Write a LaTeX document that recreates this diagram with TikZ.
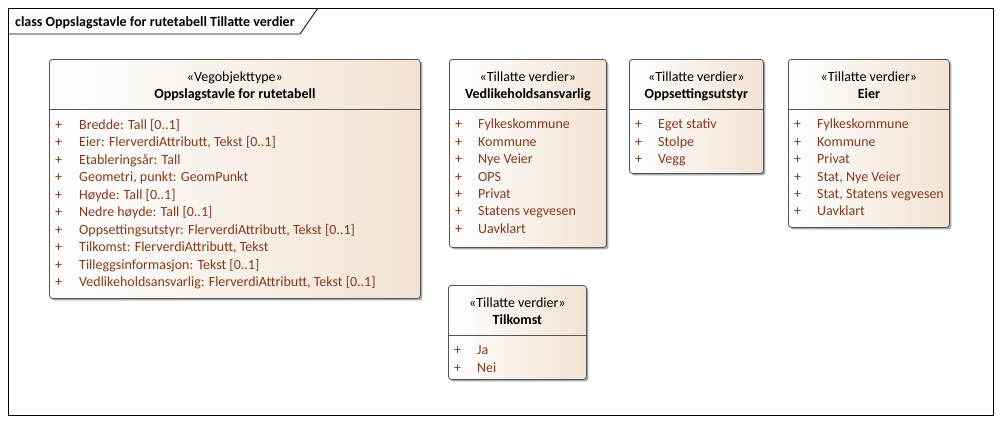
\documentclass[tikz,border=0pt]{standalone}
\usepackage{fontspec}
\setmainfont{Carlito}
\usepackage{xcolor}
\usetikzlibrary{positioning,shadows}
\definecolor{peach}{RGB}{242,226,211}
\definecolor{boxline}{RGB}{85,85,85}
\definecolor{attrtext}{RGB}{128,58,32}

\begin{document}
\begin{tikzpicture}[x=1pt, y=-1pt,
  classbox/.style={draw=boxline, line width=0.8pt, rounded corners=3pt, left color=white, right color=peach, anchor=north west, inner sep=0pt, drop shadow={shadow xshift=2pt, shadow yshift=-2pt, fill=black, opacity=0.35}},
  stereo/.style={font=\fontsize{14}{17}\selectfont, inner sep=0pt, anchor=base},
  cname/.style={font=\fontsize{14}{17}\selectfont\bfseries, inner sep=0pt, anchor=base},
  plus/.style={font=\fontsize{14}{17}\selectfont, text=attrtext, anchor=base west, inner sep=0pt},
  attr/.style={font=\fontsize{14}{17}\selectfont, text=attrtext, anchor=base west, inner sep=0pt},
  sepline/.style={draw=boxline, line width=0.8pt}]
\useasboundingbox (0,0) rectangle (1002,424);
% diagram frame
\draw[line width=0.8pt] (8,8) rectangle (993,415);
\draw[line width=0.8pt] (8,34) -- (300,34) -- (318,8);
\node[anchor=base west, inner sep=0pt, font=\fontsize{14}{17}\selectfont\bfseries] (title) at (15,26) {class Oppslagstavle for rutetabell Tillatte verdier};

% classes
\node[classbox, minimum width=371pt, minimum height=239pt] (oppslag) at (49,59) {};
\node[classbox, minimum width=157pt, minimum height=188pt] (vedlikehold) at (449,59) {};
\node[classbox, minimum width=134pt, minimum height=114pt] (oppsetting) at (629,59) {};
\node[classbox, minimum width=161pt, minimum height=168pt] (eier) at (788,59) {};
\node[classbox, minimum width=138pt, minimum height=94pt] (tilkomst) at (448,285) {};

\node[stereo] (oppslag-s) at ([yshift=-22.7pt]oppslag.north) {«Vegobjekttype»};
\node[cname] (oppslag-n) at ([yshift=-39.5pt]oppslag.north) {Oppslagstavle for rutetabell};
\foreach \b in {vedlikehold,oppsetting,eier,tilkomst}{
  \node[stereo] (\b-s) at ([yshift=-22.7pt]\b.north) {«Tillatte verdier»};
}
\node[cname] (vedlikehold-n) at ([yshift=-39.5pt]vedlikehold.north) {Vedlikeholdsansvarlig};
\node[cname] (oppsetting-n) at ([yshift=-39.5pt]oppsetting.north) {Oppsettingsutstyr};
\node[cname] (eier-n) at ([yshift=-39.5pt]eier.north) {Eier};
\node[cname] (tilkomst-n) at ([yshift=-39.5pt]tilkomst.north) {Tilkomst};

\foreach \b in {oppslag,vedlikehold,oppsetting,eier,tilkomst}{
  \draw[sepline] ([yshift=-50pt]\b.north west) -- ([yshift=-50pt]\b.north east);
}

% attributes and values
\foreach \t [count=\k] in {Bredde: Tall [0..1], {Eier: FlerverdiAttributt, Tekst [0..1]}, Etableringsår: Tall, {Geometri, punkt: GeomPunkt}, Høyde: Tall [0..1], Nedre høyde: Tall [0..1], {Oppsettingsutstyr: FlerverdiAttributt, Tekst [0..1]}, {Tilkomst: FlerverdiAttributt, Tekst}, Tilleggsinformasjon: Tekst [0..1], {Vedlikeholdsansvarlig: FlerverdiAttributt, Tekst [0..1]}}{
  \node[plus] (oppslag-p\k) at ([xshift=6pt, yshift={-52.5pt-\k*17.5pt}]oppslag.north west) {+};
  \node[attr] (oppslag-a\k) at ([xshift=30pt, yshift={-52.5pt-\k*17.5pt}]oppslag.north west) {\t};
}
\foreach \t [count=\k] in {Fylkeskommune, Kommune, Nye Veier, OPS, Privat, Statens vegvesen, Uavklart}{
  \node[plus] (vedlikehold-p\k) at ([xshift=6pt, yshift={-52.5pt-\k*17.4pt}]vedlikehold.north west) {+};
  \node[attr] (vedlikehold-a\k) at ([xshift=29pt, yshift={-52.5pt-\k*17.4pt}]vedlikehold.north west) {\t};
}
\foreach \t [count=\k] in {Eget stativ, Stolpe, Vegg}{
  \node[plus] (oppsetting-p\k) at ([xshift=6pt, yshift={-52.5pt-\k*17.4pt}]oppsetting.north west) {+};
  \node[attr] (oppsetting-a\k) at ([xshift=29pt, yshift={-52.5pt-\k*17.4pt}]oppsetting.north west) {\t};
}
\foreach \t [count=\k] in {Fylkeskommune, Kommune, Privat, {Stat, Nye Veier}, {Stat, Statens vegvesen}, Uavklart}{
  \node[plus] (eier-p\k) at ([xshift=6pt, yshift={-52.5pt-\k*17.4pt}]eier.north west) {+};
  \node[attr] (eier-a\k) at ([xshift=29pt, yshift={-52.5pt-\k*17.4pt}]eier.north west) {\t};
}
\foreach \t [count=\k] in {Ja, Nei}{
  \node[plus] (tilkomst-p\k) at ([xshift=6pt, yshift={-52.5pt-\k*17.4pt}]tilkomst.north west) {+};
  \node[attr] (tilkomst-a\k) at ([xshift=29pt, yshift={-52.5pt-\k*17.4pt}]tilkomst.north west) {\t};
}
\end{tikzpicture}
\end{document}
